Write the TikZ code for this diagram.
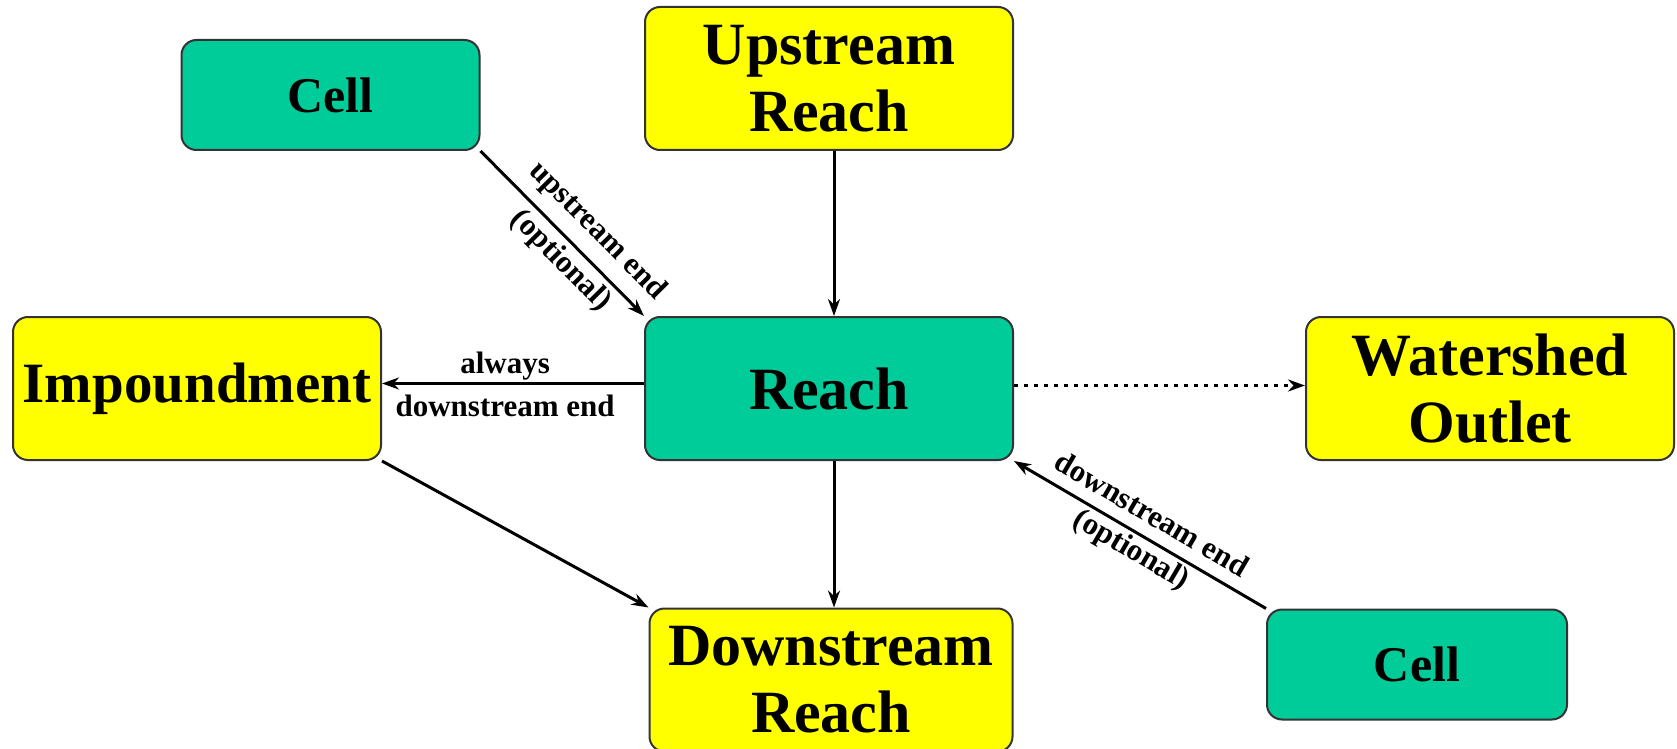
\documentclass[tikz,border=0pt]{standalone}
\usepackage{fontspec}
\setmainfont{Liberation Serif}
\usetikzlibrary{arrows.meta}
\definecolor{boxgreen}{RGB}{0,204,153}
\definecolor{boxyellow}{RGB}{255,255,0}
\begin{document}
\begin{tikzpicture}[x=0.5pt,y=-0.5pt,
  box/.style={draw=black!80, line width=1pt, rounded corners=7.5pt, align=center,
    font=\bfseries\fontsize{30}{33.5}\selectfont, inner sep=0pt,
    minimum width=184pt, minimum height=71.5pt},
  greenbox/.style={box, fill=boxgreen},
  yellowbox/.style={box, fill=boxyellow},
  cellbox/.style={greenbox, font=\bfseries\fontsize{25}{28}\selectfont,
    minimum width=149pt, minimum height=55pt},
  conn/.style={line width=1.5pt, -{Stealth[length=8.5pt,width=6pt]}},
  dotconn/.style={conn, dash pattern=on 2pt off 3pt},
  lbl/.style={font=\bfseries\fontsize{15.5}{17}\selectfont, inner sep=1pt}]
\useasboundingbox (0,0) rectangle (1677,749);

\node[cellbox] (cell1) at (330.5,95) {Cell};
\node[yellowbox] (upstream) at (829,78.5) {Upstream\\Reach};
\node[yellowbox, font=\bfseries\fontsize{28.5}{33.5}\selectfont] (impound) at (197,388.5) {Impoundment};
\node[greenbox] (reach) at (829,388.5) {Reach};
\node[yellowbox] (outlet) at (1490,388.5) {Watershed\\Outlet};
\node[yellowbox, minimum width=181.5pt] (downstream) at (831,680) {Downstream\\Reach};
\node[cellbox, minimum width=150pt] (cell2) at (1417,664.5) {Cell};

\draw[conn] (cell1.south east) --
  node[lbl, sloped, above=4.5pt, pos=0.6] {upstream end}
  node[lbl, sloped, below=1.5pt, pos=0.58] {(optional)}
  (reach.north west);
\draw[conn] ([xshift=2.5pt]upstream.south) -- ([xshift=2.5pt]reach.north);
\draw[conn] ([yshift=2.5pt]reach.west) --
  node[lbl, above, pos=0.53] {always}
  node[lbl, below=4pt, pos=0.53] {downstream end}
  ([yshift=2.5pt]impound.east);
\draw[dotconn] ([yshift=1.5pt]reach.east) -- ([yshift=1.5pt]outlet.west);
\draw[conn] ([xshift=2.5pt]reach.south) -- ([xshift=1.5pt]downstream.north);
\draw[conn] (impound.south east) -- (downstream.north west);
\draw[conn] (cell2.north west) --
  node[lbl, sloped, above=5pt, pos=0.5] {downstream end}
  node[lbl, sloped, below=0.5pt, pos=0.5] {(optional)}
  (reach.south east);
\end{tikzpicture}
\end{document}
